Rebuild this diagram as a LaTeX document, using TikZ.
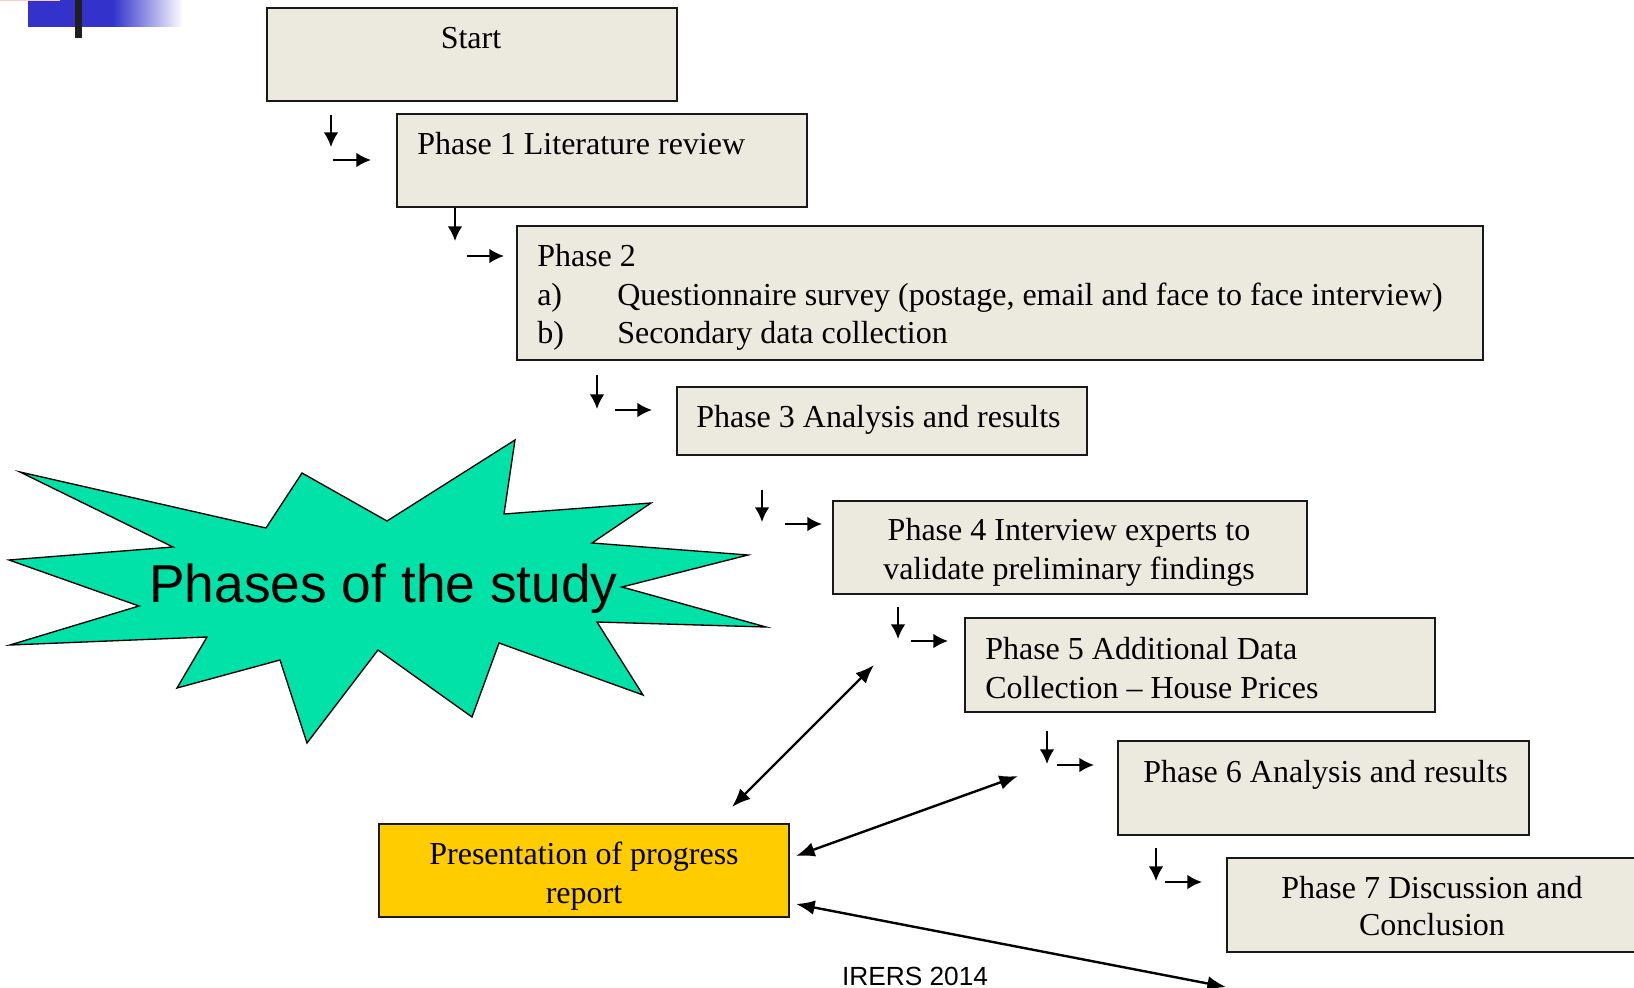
\documentclass[tikz,border=0pt]{standalone}
\usepackage{fontspec}
\setmainfont{Liberation Serif}
\newfontfamily\arialfont{Liberation Sans}
\usetikzlibrary{arrows.meta,fit}
\definecolor{boxfill}{RGB}{236,233,223}
\definecolor{burst}{RGB}{0,226,168}
\definecolor{gold}{RGB}{255,204,0}
\definecolor{deco}{RGB}{51,51,204}
\definecolor{pinkline}{RGB}{255,205,205}
\begin{document}
\begin{tikzpicture}[x=0.75pt,y=-0.75pt,
 phasebox/.style={draw=black!90, line width=1.5pt, fill=boxfill, inner sep=0pt},
 presbox/.style={draw=black!90, line width=1.5pt, fill=gold, inner sep=0pt},
 txt/.style={anchor=base west, inner sep=0pt, font=\fontsize{24}{29}\selectfont},
 ctxt/.style={anchor=base, inner sep=0pt, font=\fontsize{24}{29}\selectfont},
 steparrow/.style={line width=1.5pt, -{Latex[length=11pt,width=11pt]}},
 linkarrow/.style={line width=1.8pt, {Latex[length=14pt,width=11pt]}-{Latex[length=14pt,width=11pt]}},
]
\useasboundingbox (0,0) rectangle (1634,988);
\clip (0,0) rectangle (1634,988);

% top-left decoration
\fill[deco] (28,0) rectangle (113,27);
\shade[left color=deco, right color=white] (113,0) rectangle (183,27);
\fill[pinkline] (0,0) rectangle (60,1.2);
\fill[black!88] (75,0) rectangle (82,38);

% boxes
\node[phasebox, fit={(267,8) (677,101)}] (start) {};
\node[phasebox, fit={(397,114) (807,207)}] (p1) {};
\node[phasebox, fit={(517,226) (1483,360)}] (p2) {};
\node[phasebox, fit={(677,387) (1087,455)}] (p3) {};
\node[phasebox, fit={(833,501) (1307,594)}] (p4) {};
\node[phasebox, fit={(965,618) (1435,712)}] (p5) {};
\node[phasebox, fit={(1118,741) (1529,835)}] (p6) {};
\node[phasebox, fit={(1227,858) (1645,952)}] (p7) {};
\node[presbox, fit={(379,824) (789,917)}] (pres) {};

% texts
\node[ctxt] (tstart) at (471,49) {Start};
\node[txt] (tp1) at (417,155) {Phase 1 Literature review};
\node[txt] (tp2) at (537,266) {Phase 2};
\node[txt] (tp2a) at (537,305) {a)};
\node[txt] (tp2aa) at (617,305) {Questionnaire survey (postage, email and face to face interview)};
\node[txt] (tp2b) at (537,343) {b)};
\node[txt] (tp2bb) at (617,343) {Secondary data collection};
\node[txt] (tp3) at (696,427) {Phase 3 Analysis and results};
\node[ctxt] (tp4a) at (1069,540) {Phase 4 Interview experts to};
\node[ctxt] (tp4b) at (1069,579) {validate preliminary findings};
\node[txt] (tp5a) at (985,659) {Phase 5 Additional Data};
\node[txt] (tp5b) at (985,698) {Collection -- House Prices};
\node[txt] (tp6) at (1143,782) {Phase 6 Analysis and results};
\node[ctxt] (tp7a) at (1432,898) {Phase 7 Discussion and};
\node[ctxt] (tp7b) at (1432,935) {Conclusion};
\node[ctxt] (tpresa) at (584,864) {Presentation of progress};
\node[ctxt] (tpresb) at (584,903) {report};

% starburst
\draw[fill=burst, line width=1pt, line join=miter]
 (20,472) -- (266,528) -- (302,473) -- (387,521) -- (515,440) -- (504,514)
 -- (651,503) -- (592,543) -- (748,555) -- (622,587) -- (766,627) -- (597,622)
 -- (643,695) -- (499,643) -- (472,717) -- (378,650) -- (307,743) -- (280,660)
 -- (177,688) -- (207,637) -- (10,645) -- (139,606) -- (9,560) -- (173,547) -- cycle;
\node[anchor=base west, inner sep=0pt, font=\arialfont\fontsize{40}{48}\selectfont] (burstlabel) at (149,602) {Phases of the study};

% footer
\node[anchor=base, inner sep=0pt, font=\arialfont\fontsize{19.7}{24}\selectfont] (footer) at (915,985.5) {IRERS 2014};

% small step arrows
\coordinate (a0d1) at (331,115); \coordinate (a0d2) at (331,147);
\coordinate (a0r1) at (333,160); \coordinate (a0r2) at (371,160);
\coordinate (a1d1) at (455,208); \coordinate (a1d2) at (455,241);
\coordinate (a1r1) at (467,256); \coordinate (a1r2) at (504,256);
\coordinate (a2d1) at (597,375); \coordinate (a2d2) at (597,409);
\coordinate (a2r1) at (615,410); \coordinate (a2r2) at (652,410);
\coordinate (a3d1) at (762,490); \coordinate (a3d2) at (762,522);
\coordinate (a3r1) at (785,524); \coordinate (a3r2) at (822,524);
\coordinate (a4d1) at (898,607); \coordinate (a4d2) at (898,639);
\coordinate (a4r1) at (911,641); \coordinate (a4r2) at (948,641);
\coordinate (a5d1) at (1047,731); \coordinate (a5d2) at (1047,764);
\coordinate (a5r1) at (1057,765); \coordinate (a5r2) at (1094,765);
\coordinate (a6d1) at (1156,848); \coordinate (a6d2) at (1156,881);
\coordinate (a6r1) at (1165,882); \coordinate (a6r2) at (1202,882);
\foreach \k in {0,...,6}{
  \draw[steparrow] (a\k d1) -- (a\k d2);
  \draw[steparrow] (a\k r1) -- (a\k r2);
}

% links to presentation
\coordinate (l1s) at (732,807); \coordinate (l1e) at (874,665);
\coordinate (l2s) at (796,856); \coordinate (l2e) at (1018,776);
\coordinate (l3s) at (796,904); \coordinate (l3e) at (1226,987);
\draw[linkarrow] (l1s) -- (l1e);
\draw[linkarrow] (l2s) -- (l2e);
\draw[linkarrow] (l3s) -- (l3e);
\end{tikzpicture}
\end{document}
